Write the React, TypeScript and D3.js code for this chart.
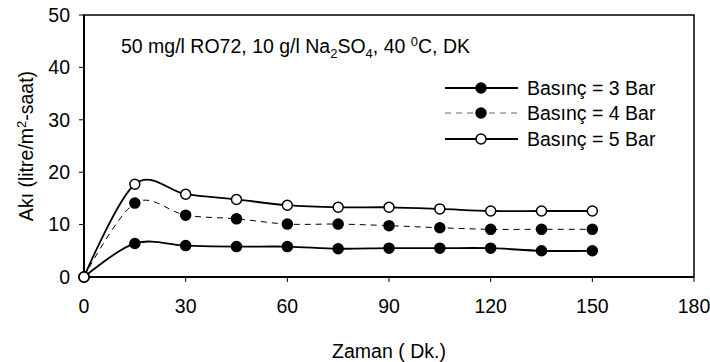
import React from 'react';
import * as d3 from 'd3';

// time (min)
const zaman = [0, 15, 30, 45, 60, 75, 90, 105, 120, 135, 150];
// flux values (litre/m2-saat)
const bar3 = [0, 6.4, 6.0, 5.8, 5.8, 5.4, 5.5, 5.5, 5.5, 5.0, 5.0];
const bar4 = [0, 14.1, 11.8, 11.1, 10.1, 10.1, 9.8, 9.4, 9.1, 9.1, 9.1];
const bar5 = [0, 17.7, 15.8, 14.8, 13.7, 13.3, 13.3, 13.0, 12.6, 12.6, 12.6];
const xTicks = [0, 30, 60, 90, 120, 150, 180];
const yTicks = [0, 10, 20, 30, 40, 50];
const seriesNames = ['Basınç = 3 Bar', 'Basınç = 4 Bar', 'Basınç = 5 Bar'];

const W = 710;
const H = 362;
const margin = { top: 15, right: 16, bottom: 85, left: 84 };
const font = 'Liberation Sans, Arial, sans-serif';
const fs = 19.5;
const fsSmall = 13;

const App = () => {
  const innerW = W - margin.left - margin.right;
  const innerH = H - margin.top - margin.bottom;

  const x = d3.scaleLinear().domain([0, 180]).range([0, innerW]);
  const y = d3.scaleLinear().domain([0, 50]).range([innerH, 0]);

  const line = d3.line<[number, number]>()
    .x(d => x(d[0]))
    .y(d => y(d[1]))
    .curve(d3.curveCardinal.tension(0));

  const series = [
    { vals: bar3, dash: undefined, fill: '#000' },
    { vals: bar4, dash: '6,5', fill: '#000' },
    { vals: bar5, dash: undefined, fill: '#fff' },
  ];

  const legendY = [88, 113, 139];

  return (
    <svg width={W} height={H} style={{ position: 'absolute', left: 0, top: 0 }} fontFamily={font}>
      <rect width={W} height={H} fill="#fff" />
      <g transform={`translate(${margin.left},${margin.top})`}>
        <rect width={innerW} height={innerH} fill="none" stroke="#000" strokeWidth={1.5} />
        <line x1={0} x2={0} y1={0} y2={innerH} stroke="#000" strokeWidth={2} />
        <line x1={0} x2={innerW} y1={innerH} y2={innerH} stroke="#000" strokeWidth={2} />

        {yTicks.map(t => (
          <g key={'y' + t} transform={`translate(0,${y(t)})`}>
            <line x1={-5} x2={0} stroke="#000" strokeWidth={1} />
            <text x={-14} dy="0.35em" textAnchor="end" fontSize={fs}>{t}</text>
          </g>
        ))}
        {xTicks.map(t => (
          <g key={'x' + t} transform={`translate(${x(t)},${innerH})`}>
            <line y1={0} y2={5} stroke="#000" strokeWidth={1} />
            <text y={36} textAnchor="middle" fontSize={fs}>{t}</text>
          </g>
        ))}

        {series.map((s, i) => {
          const pts: [number, number][] = zaman.map((t, j) => [t, s.vals[j]]);
          return (
            <g key={'s' + i}>
              <path d={line(pts) || ''} fill="none" stroke="#000" strokeWidth={s.dash ? 1 : 1.8} strokeDasharray={s.dash} />
              {pts.map((p, j) => (
                <circle key={j} cx={x(p[0])} cy={y(p[1])} r={5} fill={s.fill} stroke="#000" strokeWidth={1.5} />
              ))}
            </g>
          );
        })}
      </g>

      <text x={121} y={53} fontSize={fs}>
        50 mg/l RO72, 10 g/l Na<tspan dy={5} fontSize={fsSmall}>2</tspan><tspan dy={-5}>SO</tspan><tspan dy={5} fontSize={fsSmall}>4</tspan><tspan dy={-5}>, 40 </tspan><tspan dy={-7} fontSize={fsSmall}>0</tspan><tspan dy={7}>C, DK</tspan>
      </text>

      {series.map((s, i) => (
        <g key={'l' + i} transform={`translate(0,${legendY[i]})`}>
          <line x1={445} x2={518} stroke={s.dash ? '#666' : '#000'} strokeWidth={s.dash ? 1 : 1.8} strokeDasharray={s.dash ? '6,5' : undefined} />
          <circle cx={481} r={5} fill={s.fill} stroke="#000" strokeWidth={1.5} />
          <text x={527} dy="0.35em" fontSize={fs}>{seriesNames[i]}</text>
        </g>
      ))}

      <text transform={`translate(33,${margin.top + innerH / 2}) rotate(-90)`} textAnchor="middle" fontSize={fs}>
        Akı (litre/m<tspan dy={-7} fontSize={fsSmall}>2</tspan><tspan dy={7}>-saat)</tspan>
      </text>
      <text x={margin.left + innerW / 2} y={358} textAnchor="middle" fontSize={fs}>Zaman ( Dk.)</text>
    </svg>
  );
};

export default App;
